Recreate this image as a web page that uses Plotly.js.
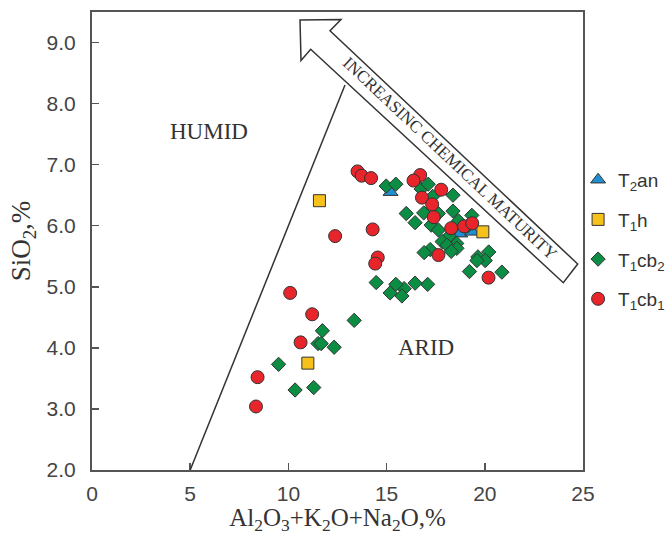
<!DOCTYPE html>
<html>
<head>
<meta charset="utf-8">
<script src="https://cdn.plot.ly/plotly-3.0.1.min.js"></script>
<style>html,body{margin:0;padding:0;background:#fff;}#chart{width:665px;height:535px;}</style>
</head>
<body>
<div id="chart"></div>
<script>
// ---- data ----
const seriesNames = ["T<sub>2</sub>an", "T<sub>1</sub>h", "T<sub>1</sub>cb<sub>2</sub>", "T<sub>1</sub>cb<sub>1</sub>"];

const t2an_x = [15.2, 18.75, 19.35];
const t2an_y = [6.55, 5.87, 5.90];

const t1h_x = [11.58, 19.9, 10.99];
const t1h_y = [6.41, 5.90, 3.75];

const t1cb2_x = [14.98, 15.47, 16.0, 16.45, 16.76, 17.12, 17.35, 18.38, 16.89, 17.27,
                 17.63, 17.64, 18.38, 18.66, 19.34, 19.14, 18.19, 17.83, 18.57, 18.08,
                 18.58, 18.29, 17.22, 16.91, 19.65, 20.2, 20.02, 19.6, 19.22, 20.87,
                 17.09, 16.45, 15.89, 15.47, 14.47, 15.18, 15.78, 13.35, 11.73, 11.51,
                 11.67, 12.33, 9.5, 10.34, 11.29];
const t1cb2_y = [6.65, 6.68, 6.20, 6.05, 6.60, 6.68, 6.48, 6.50, 6.21, 6.01,
                 6.20, 5.93, 6.24, 6.08, 6.17, 6.00, 5.83, 5.74, 5.71, 5.68,
                 5.63, 5.58, 5.61, 5.56, 5.49, 5.57, 5.43, 5.43, 5.25, 5.24,
                 5.04, 5.06, 4.97, 5.04, 5.07, 4.90, 4.85, 4.45, 4.28, 4.07,
                 4.07, 4.01, 3.73, 3.31, 3.35];

const t1cb1_x = [13.52, 13.73, 14.21, 12.38, 14.29, 14.55, 14.42, 10.09, 11.21, 10.62,
                 8.43, 8.35, 16.71, 16.37, 17.78, 16.8, 17.32, 17.4, 18.29, 18.95,
                 19.36, 17.64, 20.19];
const t1cb1_y = [6.89, 6.82, 6.78, 5.83, 5.94, 5.48, 5.38, 4.90, 4.55, 4.09,
                 3.52, 3.04, 6.83, 6.74, 6.59, 6.46, 6.35, 6.14, 5.96, 5.99,
                 6.04, 5.52, 5.15];

const xTickVals = [0, 5, 10, 15, 20, 25];
const yTickVals = [2, 3, 4, 5, 6, 7, 8, 9];
const yTickText = ["2.0", "3.0", "4.0", "5.0", "6.0", "7.0", "8.0", "9.0"];

// ---- chart ----
const outline = {color: "#333", width: 1};
function tr(x, y, name, symbol, size, color, grp) {
  return {
    type: "scatter", mode: "markers", x: x, y: y, name: name,
    legendgroup: grp,
    marker: {symbol: symbol, size: size, color: color, line: outline},
    hoverinfo: "x+y+name"
  };
}
const traces = [
  tr(t2an_x, t2an_y, seriesNames[0], "triangle-up", 13, "#1f8fd0", "a"),
  tr(t1h_x, t1h_y, seriesNames[1], "square", 12, "#f7c11b", "b"),
  tr(t1cb2_x, t1cb2_y, seriesNames[2], "diamond", 11, "#0b8d44", "c"),
  tr(t1cb1_x, t1cb1_y, seriesNames[3], "circle", 13, "#e8252b", "d")
];

// pixel -> data helpers for decorative shapes
function dx(px) { return (px - 92) / 19.64; }
function dy(py) { return 2 + (470 - py) / 61.07; }
const arrowPx = [[300,20],[341,19.5],[330,30.7],[577.7,264],[563.3,282.7],[310.7,49.3],[301,60.5]];
const arrowPath = "M " + arrowPx.map(p => dx(p[0]).toFixed(3) + "," + dy(p[1]).toFixed(3)).join(" L ") + " Z";

const serif = "Liberation Serif, Times New Roman, serif";
const sans = "Liberation Sans, Arial, sans-serif";

const layout = {
  width: 665, height: 535,
  margin: {l: 92, r: 82, t: 12, b: 65, pad: 0, autoexpand: false},
  paper_bgcolor: "#fff", plot_bgcolor: "#fff",
  showlegend: true,
  legend: {
    x: 0.99, xanchor: "left", y: 0.675, yanchor: "top",
    traceorder: "grouped", tracegroupgap: 12,
    font: {family: sans, size: 19, color: "#333"},
    bgcolor: "rgba(0,0,0,0)", borderwidth: 0
  },
  xaxis: {
    range: [0, 25], tickvals: xTickVals, ticks: "inside", ticklen: 7, tickwidth: 1.5, tickcolor: "#555",
    showline: true, linecolor: "#555", linewidth: 2, mirror: true,
    showgrid: false, zeroline: false,
    tickfont: {family: sans, size: 21, color: "#444"},
    ticklabelstandoff: 4,
    title: {text: "Al<sub>2</sub>O<sub>3</sub>+K<sub>2</sub>O+Na<sub>2</sub>O,%", font: {family: serif, size: 25, color: "#333"}, standoff: 10}
  },
  yaxis: {
    range: [2, 9.5], tickvals: yTickVals, ticktext: yTickText, ticks: "inside", ticklen: 7, tickwidth: 1.5, tickcolor: "#555",
    showline: true, linecolor: "#555", linewidth: 2, mirror: true,
    showgrid: false, zeroline: false,
    tickfont: {family: sans, size: 21, color: "#444"},
    ticklabelstandoff: 10,
    title: {text: "SiO<sub>2</sub>,%", font: {family: serif, size: 27, color: "#333"}, standoff: 8}
  },
  shapes: [
    {type: "line", xref: "x", yref: "y", x0: 5, y0: 2, x1: dx(345), y1: dy(85), line: {color: "#333", width: 1.5}},
    {type: "path", xref: "x", yref: "y", path: arrowPath, fillcolor: "#fff", line: {color: "#333", width: 1.5}, layer: "above"}
  ],
  annotations: [
    {xref: "x", yref: "y", x: dx(209), y: dy(131), text: "HUMID", showarrow: false, font: {family: serif, size: 23, color: "#333"}},
    {xref: "x", yref: "y", x: dx(426), y: dy(347), text: "ARID", showarrow: false, font: {family: serif, size: 23, color: "#333"}},
    {xref: "x", yref: "y", x: dx(450), y: dy(158), text: "INCREASINC CHEMICAL MATURITY", showarrow: false, textangle: 43.3, font: {family: serif, size: 17, color: "#333"}}
  ]
};

Plotly.newPlot("chart", traces, layout, {displayModeBar: false, staticPlot: true});
</script>
</body>
</html>
